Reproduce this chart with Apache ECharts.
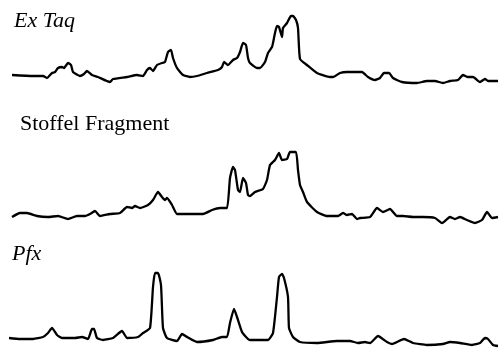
<!DOCTYPE html>
<html>
<head>
<meta charset="utf-8">
<script src="https://cdn.jsdelivr.net/npm/echarts@6/dist/echarts.min.js"></script>
<style>
  html, body { margin: 0; padding: 0; background: #fff; }
  #chart { width: 499px; height: 349px; }
</style>
</head>
<body>
<div id="chart"></div>
<script>
// trace labels
const traceNames = ['Ex Taq', 'Stoffel Fragment', 'Pfx'];

// Ex Taq: elution position / signal
const exTaqTime = [12, 33, 43, 47, 52, 55, 58, 62, 64, 68, 71, 73, 80, 84, 87, 92, 98, 110, 113, 127, 137, 143, 147, 150, 153, 157, 162, 165, 168, 171, 173, 177, 183, 190, 197, 207, 218, 222, 224, 228, 233, 237, 240, 243, 246, 248, 250, 257, 260, 265, 268, 272, 273, 275, 277, 279, 282, 283, 287, 291, 293, 296, 298, 300, 307, 317, 330, 333, 340, 347, 362, 368, 375, 380, 384, 389, 393, 402, 417, 427, 435, 443, 450, 458, 463, 468, 473, 480, 485, 488, 498];
const exTaqSignal = [15, 14, 14, 12, 17, 18, 22, 23, 22, 27, 25, 18, 14, 16, 19, 15, 13, 8, 11, 13, 15, 14, 20, 22, 19, 25, 27, 28, 38, 40, 32, 22, 15, 13, 14, 17, 20, 23, 28, 25, 30, 32, 38, 47, 45, 32, 27, 22, 22, 28, 37, 43, 47, 57, 64, 63, 53, 62, 67, 74, 74, 70, 62, 31, 25, 17, 13, 13, 17, 18, 18, 13, 10, 12, 17, 17, 12, 8, 7, 9, 9, 7, 9, 10, 15, 13, 13, 8, 11, 9, 9];

// Stoffel Fragment
const stoffelTime = [12, 20, 27, 37, 48, 58, 68, 77, 85, 90, 95, 100, 110, 120, 127, 132, 135, 140, 148, 153, 158, 162, 165, 167, 172, 177, 187, 203, 212, 220, 227, 230, 233, 235, 238, 240, 243, 246, 248, 250, 255, 263, 267, 270, 275, 279, 282, 287, 290, 296, 298, 300, 303, 307, 317, 327, 338, 343, 347, 352, 357, 360, 370, 377, 383, 390, 397, 403, 413, 423, 435, 442, 450, 455, 460, 467, 475, 482, 487, 492, 498];
const stoffelSignal = [13, 17, 17, 14, 13, 14, 11, 14, 14, 16, 19, 14, 16, 17, 23, 22, 24, 22, 25, 30, 38, 33, 30, 32, 25, 16, 16, 16, 20, 22, 22, 52, 63, 60, 40, 38, 52, 47, 35, 34, 38, 41, 50, 65, 70, 77, 70, 71, 78, 78, 60, 45, 38, 28, 18, 14, 14, 17, 15, 16, 11, 12, 13, 22, 18, 21, 14, 14, 13, 13, 12, 7, 13, 11, 13, 10, 7, 10, 18, 12, 13];

// Pfx
const pfxTime = [9, 20, 33, 43, 48, 52, 57, 62, 75, 82, 88, 92, 94, 97, 103, 113, 122, 127, 138, 143, 150, 153, 155, 158, 161, 163, 167, 177, 182, 187, 197, 213, 222, 227, 230, 234, 237, 242, 248, 250, 268, 273, 277, 279, 282, 284, 288, 289, 293, 300, 317, 337, 350, 358, 365, 370, 378, 387, 392, 404, 413, 427, 443, 450, 460, 472, 480, 485, 488, 493, 498];
const pfxSignal = [11, 10, 10, 12, 16, 21, 14, 11, 11, 12, 10, 20, 20, 11, 9, 11, 18, 11, 12, 16, 21, 62, 76, 76, 64, 21, 11, 8, 15, 12, 7, 9, 12, 12, 26, 40, 32, 17, 10, 9, 9, 16, 52, 72, 75, 71, 52, 21, 12, 7, 6, 8, 8, 6, 7, 6, 13, 7, 5, 10, 6, 4, 5, 7, 6, 4, 6, 11, 10, 4, 3];

const traces = [
  { time: exTaqTime, signal: exTaqSignal },
  { time: stoffelTime, signal: stoffelSignal },
  { time: pfxTime, signal: pfxSignal }
];

const chart = echarts.init(document.getElementById('chart'));

const grids = [
  { left: 0, right: 0, top: 10, height: 80 },
  { left: 0, right: 0, top: 140, height: 90 },
  { left: 0, right: 0, top: 259, height: 90 }
];
const yMax = [80, 90, 90];

const labelStyle = (italic) => ({
  fontFamily: 'Liberation Serif',
  fontSize: 22,
  fontWeight: 'normal',
  fontStyle: italic ? 'italic' : 'normal',
  color: '#000'
});

const option = {
  backgroundColor: '#fff',
  animation: false,
  title: [
    { text: traceNames[0], left: 14, top: 10, padding: 0, textStyle: labelStyle(true) },
    { text: traceNames[1], left: 20, top: 113, padding: 0, textStyle: labelStyle(false) },
    { text: traceNames[2], left: 12, top: 243, padding: 0, textStyle: labelStyle(true) }
  ],
  grid: grids,
  xAxis: grids.map((g, i) => ({
    type: 'value',
    gridIndex: i,
    min: 0,
    max: 499,
    show: false
  })),
  yAxis: grids.map((g, i) => ({
    type: 'value',
    gridIndex: i,
    min: 0,
    max: yMax[i],
    show: false
  })),
  series: traces.map((t, i) => ({
    name: traceNames[i],
    type: 'line',
    xAxisIndex: i,
    yAxisIndex: i,
    data: t.time.map((x, k) => [x, t.signal[k]]),
    symbol: 'none',
    smooth: 0.15,
    lineStyle: { color: '#000', width: 2.3 }
  }))
};

chart.setOption(option);
</script>
</body>
</html>
